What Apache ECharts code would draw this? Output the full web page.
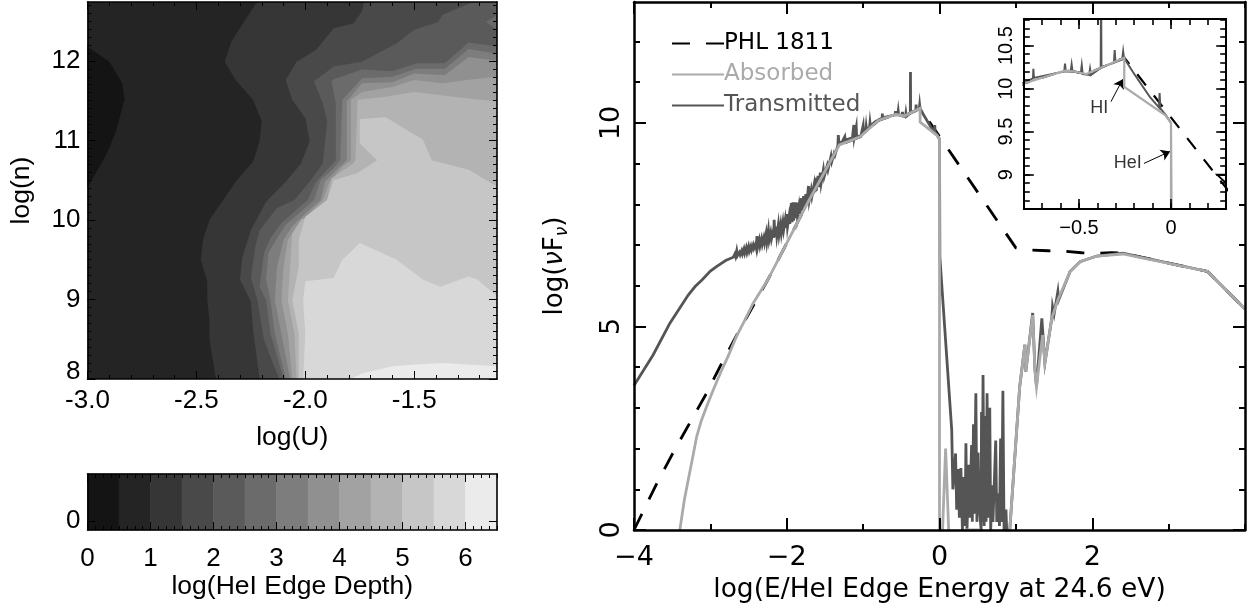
<!DOCTYPE html>
<html><head><meta charset="utf-8">
<style>html,body{margin:0;padding:0;background:#fff}#c{width:1253px;height:611px}</style>
<script src="https://cdn.jsdelivr.net/npm/echarts@6/dist/echarts.min.js"></script>
</head><body><div id="c"></div>
<script>
// ---- contour boundaries, log(U) vs log(n) ----
const contourBase=[[-3,8],[-3,12.74],[-1.12,12.74],[-1.12,8]];
const contourDarkest=[[-3,12.18],[-2.9,11.99],[-2.84,11.72],[-2.83,11.51],[-2.87,11.11],[-2.91,10.84],[-3,10.4]];
const contourA=[[-2.22,12.75],[-2.27,12.54],[-2.34,12.24],[-2.37,11.99],[-2.32,11.76],[-2.24,11.51],[-2.2,11.24],[-2.21,10.99],[-2.24,10.73],[-2.32,10.48],[-2.44,10.0],[-2.47,9.75],[-2.48,9.5],[-2.45,9.22],[-2.45,8.99],[-2.44,8.74],[-2.44,8.49],[-2.41,8]];
const contourB=[[-1.73,12.75],[-1.74,12.62],[-1.78,12.47],[-1.87,12.41],[-1.95,12.14],[-2.04,11.99],[-2.09,11.76],[-2.06,11.51],[-2.0,11.28],[-1.98,10.99],[-2.02,10.71],[-2.09,10.48],[-2.18,10.23],[-2.25,9.87],[-2.29,9.52],[-2.3,9.25],[-2.25,8.97],[-2.24,8.62],[-2.21,8]];
const contourC=[[-1.22,12.75],[-1.37,12.58],[-1.39,12.49],[-1.5,12.39],[-1.58,12.22],[-1.74,11.99],[-1.87,11.93],[-1.96,11.74],[-1.92,11.47],[-1.9,11.24],[-1.91,10.96],[-1.92,10.71],[-1.98,10.48],[-2.05,10.25],[-2.13,10.15],[-2.21,9.87],[-2.23,9.66],[-2.25,9.27],[-2.22,8.99],[-2.19,8.49],[-2.12,8]];
const contourD=[[-1.12,12.18],[-1.25,12.23],[-1.36,11.97],[-1.49,11.97],[-1.6,11.87],[-1.74,11.89],[-1.87,11.77],[-1.88,11.74],[-1.86,11.47],[-1.86,10.75],[-1.9,10.63],[-1.95,10.48],[-1.99,10.25],[-2.06,10.08],[-2.11,9.96],[-2.16,9.77],[-2.19,9.58],[-2.21,9.16],[-2.18,8.99],[-2.16,8.57],[-2.1,8]];
const contourE=[[-1.12,12.09],[-1.25,12.15],[-1.36,11.9],[-1.49,11.9],[-1.6,11.8],[-1.74,11.78],[-1.83,11.51],[-1.84,10.75],[-1.87,10.65],[-1.93,10.5],[-1.96,10.25],[-2.03,10.08],[-2.09,9.94],[-2.13,9.77],[-2.17,9.58],[-2.18,9.25],[-2.16,8.99],[-2.14,8.57],[-2.09,8]];
const contourF=[[-1.12,12.0],[-1.25,12.05],[-1.36,11.82],[-1.5,11.84],[-1.6,11.73],[-1.74,11.72],[-1.81,11.49],[-1.81,10.75],[-1.85,10.65],[-1.91,10.48],[-1.93,10.25],[-2.0,10.08],[-2.06,9.92],[-2.1,9.75],[-2.13,9.41],[-2.14,8.99],[-2.11,8.57],[-2.07,8]];
const contourG=[[-1.12,11.8],[-1.26,11.76],[-1.37,11.72],[-1.5,11.76],[-1.6,11.67],[-1.74,11.61],[-1.79,11.51],[-1.79,10.75],[-1.83,10.67],[-1.89,10.48],[-1.92,10.25],[-1.99,10.06],[-2.04,9.92],[-2.08,9.75],[-2.1,9.41],[-2.11,8.99],[-2.08,8.57],[-2.06,8]];
const contourH=[[-1.12,11.49],[-1.26,11.53],[-1.5,11.61],[-1.63,11.55],[-1.76,11.51],[-1.77,10.75],[-1.78,10.71],[-1.88,10.52],[-1.9,10.25],[-1.97,10.08],[-2.02,10.0],[-2.06,9.83],[-2.07,9.41],[-2.08,8.99],[-2.05,8.57],[-2.04,8]];
const contourI=[[-1.12,10.42],[-1.25,10.63],[-1.42,10.75],[-1.46,11.01],[-1.51,11.09],[-1.63,11.29],[-1.75,11.27],[-1.75,10.96],[-1.67,10.75],[-1.76,10.59],[-1.87,10.5],[-1.9,10.25],[-2.0,10.04],[-2.03,9.75],[-2.03,9.41],[-2.06,8.99],[-2.03,8.57],[-2.03,8]];
const contourJ=[[-1.12,9.04],[-1.21,9.25],[-1.25,9.29],[-1.29,9.25],[-1.38,9.16],[-1.46,9.25],[-1.58,9.5],[-1.75,9.71],[-1.83,9.5],[-1.87,9.27],[-2.0,9.23],[-2.01,8.99],[-2.0,8.57],[-2.01,8]];
const contourK=[[-1.12,8.16],[-1.37,8.2],[-1.51,8.18],[-1.6,8.16],[-1.74,8.07],[-1.79,8]];
const contourBlob=[[-1.12,12.58],[-1.17,12.49],[-1.12,12.39]];

// ---- colour bar ----
const depthEdges=[0,0.5,1,1.5,2,2.5,3,3.5,4,4.5,5,5.5,6,6.5];
const grays=['#141414','#242424','#363636','#494949','#5a5a5a','#6b6b6b','#7d7d7d','#909090','#a2a2a2','#b3b3b3','#c6c6c6','#d8d8d8','#ebebeb'];

// ---- spectra: log(E/edge), log(nuFnu) ----
const phl1811=[[-4,0],[-3.7,1.15],[-3.49,1.89],[-3.27,2.63],[-3.05,3.36],[-2.85,4.1],[-2.64,4.84],[-2.25,6.14],[-1.74,7.99],[-1.31,9.46],[-1.04,9.66],[-0.8,10.06],[-0.576,10.21],[-0.53,10.2],[-0.46,10.17],[-0.254,10.36],[1.0,6.93],[1.18,6.88],[1.42,6.86],[1.62,6.85],[1.86,6.81],[2.06,6.8],[2.25,6.81],[2.4,6.8],[3.51,6.35],[4,5.43]];
const absorbed=[[-3.4,0],[-3.34,0.75],[-3.29,1.23],[-3.23,1.8],[-3.18,2.29],[-3.12,2.68],[-3.05,3.03],[-2.96,3.45],[-2.87,3.85],[-2.76,4.3],[-2.66,4.75],[-2.55,5.15],[-2.44,5.57],[-2.25,6.14],[-1.74,7.99],[-1.31,9.46],[-1.04,9.66],[-0.8,10.06],[-0.576,10.21],[-0.53,10.2],[-0.46,10.17],[-0.254,10.36],[-0.254,10.02],[-0.03,9.69],[0,9.6],[0,0],[0.04,0],[0.08,2.0],[0.12,0],[0.13,null],[0.33,0],[0.53,0],[0.54,null],[0.92,0],[1.05,3.52],[1.118,4.55],[1.13,3.89],[1.22,5.28],[1.25,3.93],[1.27,3.52],[1.35,4.79],[1.38,4.1],[1.47,5.2],[1.55,5.65],[1.71,6.35],[1.84,6.59],[2.06,6.73],[2.4,6.78],[3.51,6.35],[4,5.43]];
const transmitted=[[-4,3.55],[-3.75,4.3],[-3.53,5.08],[-3.29,5.77],[-3.2,5.98],[-3.11,6.14],[-3.0,6.36],[-2.92,6.47],[-2.8,6.62],[-2.7,6.7],[-2.68,6.78],[-2.67,6.72],[-2.655,6.86],[-2.645,6.74],[-2.62,6.82],[-2.61,6.76],[-2.59,6.86],[-2.58,6.78],[-2.56,6.9],[-2.55,6.8],[-2.53,6.93],[-2.52,6.82],[-2.5,6.96],[-2.49,6.85],[-2.47,6.97],[-2.46,6.88],[-2.44,7.0],[-2.43,6.92],[-2.41,7.02],[-2.4,6.93],[-2.39,7.22],[-2.38,6.95],[-2.36,7.12],[-2.35,6.98],[-2.33,7.15],[-2.32,7.02],[-2.3,7.18],[-2.29,7.06],[-2.27,7.28],[-2.26,7.08],[-2.24,7.36],[-2.23,7.12],[-2.21,7.3],[-2.2,7.15],[-2.18,7.32],[-2.17,7.18],[-2.165,7.62],[-2.155,7.2],[-2.14,7.45],[-2.13,7.22],[-2.11,7.5],[-2.1,7.26],[-2.08,7.5],[-2.07,7.3],[-2.05,7.56],[-2.04,7.38],[-2.02,7.62],[-2.01,7.42],[-2.0,7.76],[-1.99,7.45],[-1.97,7.7],[-1.96,7.52],[-1.94,8.03],[-1.93,7.56],[-1.92,8.05],[-1.91,7.6],[-1.89,8.05],[-1.88,7.66],[-1.87,8.04],[-1.86,7.7],[-1.84,7.95],[-1.83,7.76],[-1.81,8.15],[-1.8,7.84],[-1.78,8.2],[-1.77,7.92],[-1.75,8.25],[-1.74,7.99],[-1.715,8.45],[-1.705,8.1],[-1.68,8.35],[-1.67,8.2],[-1.64,8.5],[-1.63,8.3],[-1.625,8.65],[-1.615,8.33],[-1.59,8.7],[-1.58,8.42],[-1.56,8.78],[-1.55,8.52],[-1.52,8.85],[-1.51,8.68],[-1.47,8.95],[-1.46,8.85],[-1.42,9.18],[-1.41,9.05],[-1.38,9.25],[-1.37,9.2],[-1.33,9.45],[-1.325,9.7],[-1.315,9.47],[-1.27,9.55],[-1.245,9.58],[-1.24,9.66],[-1.235,9.58],[-1.14,9.63],[-1.128,9.64],[-1.122,9.95],[-1.116,9.65],[-1.095,9.66],[-1.09,9.9],[-1.085,9.66],[-1.03,9.68],[-1.005,9.72],[-1.0,9.93],[-0.995,9.75],[-0.965,9.8],[-0.96,9.9],[-0.955,9.82],[-0.915,9.9],[-0.91,10.0],[-0.905,9.92],[-0.85,10.02],[-0.8,10.07],[-0.75,10.12],[-0.748,10.23],[-0.745,10.125],[-0.58,10.2],[-0.576,10.29],[-0.572,10.2],[-0.545,10.2],[-0.54,10.28],[-0.535,10.2],[-0.49,10.18],[-0.485,10.27],[-0.48,10.17],[-0.445,10.16],[-0.44,10.23],[-0.435,10.16],[-0.382,10.24],[-0.38,11.25],[-0.378,10.25],[-0.31,10.3],[-0.306,10.45],[-0.302,10.31],[-0.265,10.34],[-0.26,10.43],[-0.256,10.36],[-0.206,10.19],[-0.114,9.9],[-0.065,9.78],[-0.062,9.95],[-0.058,9.77],[-0.027,9.69],[0,9.6],[0.005,6.7],[0.16,2.46],[0.175,1.0],[0.21,1.88],[0.225,0.5],[0.245,1.5],[0.26,0.3],[0.28,1.52],[0.3,0],[0.32,1.3],[0.335,0.1],[0.346,2.13],[0.36,0],[0.385,1.6],[0.395,0.3],[0.42,2.09],[0.43,0.2],[0.445,2.6],[0.455,0.4],[0.476,3.36],[0.49,0.2],[0.505,1.9],[0.52,0.6],[0.545,0],[0.55,2.9],[0.56,0.2],[0.57,3.81],[0.585,0.1],[0.6,2.8],[0.61,0.2],[0.623,3.36],[0.635,0.3],[0.658,3.0],[0.67,0],[0.69,1.1],[0.7,0.2],[0.736,2.2],[0.75,0.2],[0.77,0.9],[0.785,0.1],[0.8,2.25],[0.815,0.2],[0.83,3.42],[0.845,0],[0.87,0.5],[0.88,0],[0.92,0],[1.05,3.52],[1.118,4.55],[1.13,3.89],[1.22,5.33],[1.25,3.93],[1.27,3.52],[1.34,5.2],[1.38,4.1],[1.47,5.2],[1.48,5.49],[1.5,5.3],[1.55,5.86],[1.56,5.65],[1.71,6.35],[1.84,6.59],[2.06,6.73],[2.4,6.8],[3.51,6.35],[4,5.43]];
const insetCornerMark=[[0.3,8.9],[0.25,9.0],[0.3,9.0]];
const insetNotes=[[-0.39,9.78,'HI'],[-0.235,9.13,'HeI']];
const arrowHI=[[-0.326,9.85],[-0.262,10.11]];
const arrowHeI=[[-0.147,9.13],[-0.005,9.27]];

// ---- tick labels ----
const leftXTicks=[-3,-2.5,-2,-1.5], leftYTicks=[8,9,10,11,12], barXTicks=[0,1,2,3,4,5,6], barYTicks=[0];
const mainXMajor=[-4,-2,0,2], mainYMajor=[0,5,10], insetXMajor=[-0.5,0], insetYMajor=[9,9.5,10,10.5];

const LIB='"Liberation Sans",Arial,sans-serif', DV='"DejaVu Sans",sans-serif';
function steps(a,b,s){const o=[];const n=Math.round((b-a)/s);for(let i=0;i<=n;i++)o.push(Math.round((a+i*s)*1e4)/1e4);return o;}

const grid=[],xAxis=[],yAxis=[];
function frame(g,cfg){
  const gi=grid.length;grid.push(g);
  const xi=xAxis.length,yi=yAxis.length;
  const line={show:true,onZero:false,lineStyle:{color:'#000',width:cfg.frame}};
  const mk=(isX,pos,vals,len,lab,extra)=>Object.assign({type:'value',gridIndex:gi,position:pos,z:10,
    min:isX?cfg.x[0]:cfg.y[0],max:isX?cfg.x[1]:cfg.y[1],splitLine:{show:false},
    axisLine:lab==='line'||lab===true?line:{show:false,onZero:false},
    axisTick:{show:true,inside:true,length:len,customValues:vals,lineStyle:{color:'#000',width:cfg.tick}},
    axisLabel:{show:lab===true}},extra||{});
  const xLab={axisLabel:Object.assign({show:true,customValues:cfg.xMajor,margin:cfg.xMargin,fontSize:cfg.font,fontFamily:cfg.family,color:'#000'},cfg.xFmt?{formatter:cfg.xFmt}:{}),
    name:cfg.xName,nameLocation:'middle',nameGap:cfg.xGap,nameTextStyle:{fontSize:cfg.nameFont,fontFamily:cfg.family,color:'#000'}};
  const yLab={axisLabel:Object.assign({show:true,customValues:cfg.yMajor,margin:cfg.yMargin,rotate:cfg.yRot,fontSize:cfg.font,fontFamily:cfg.family,color:'#000'},cfg.yFmt?{formatter:cfg.yFmt,rich:cfg.yRich}:{}),
    name:cfg.yName,nameLocation:'middle',nameGap:cfg.yGap,nameTextStyle:Object.assign({fontSize:cfg.nameFont,fontFamily:cfg.family,color:'#000'},cfg.yNameRich?{rich:cfg.yNameRich}:{})};
  xAxis.push(mk(true,'bottom',cfg.xMajor,cfg.maj,true,xLab),mk(true,'top',cfg.xMajor,cfg.maj,'line'),mk(true,'bottom',cfg.xMinor,cfg.min,false),mk(true,'top',cfg.xMinor,cfg.min,false));
  yAxis.push(mk(false,'left',cfg.yMajor,cfg.majY||cfg.maj,true,yLab),mk(false,'right',cfg.yMajor,cfg.majY||cfg.maj,'line'),mk(false,'left',cfg.yMinor,cfg.min,false),mk(false,'right',cfg.yMinor,cfg.min,false));
  return {xAxisIndex:xi,yAxisIndex:yi};
}
const minusFmt=v=>String(v).replace('-','\u2212');

const a0=frame({left:87.5,top:2,width:409.5,height:377},{x:[-3,-1.12],y:[8,12.74],frame:1.6,tick:1,maj:8,min:4,
  xMajor:leftXTicks,yMajor:leftYTicks,xMinor:steps(-3,-1.2,0.1),yMinor:steps(8,12.7,0.1),font:26,nameFont:26.5,family:LIB,
  xMargin:9,yMargin:7,xGap:45,yGap:52,xName:'log(U)',yName:'log(n)',xFmt:v=>Number(v).toFixed(1),
  yFmt:v=>v===8?'{low|8}':String(v),yRich:{low:{fontSize:26,fontFamily:LIB,color:'#000',padding:[0,0,14,0]}}});
const a1=frame({left:87.5,top:474,width:409.5,height:56},{x:[0,6.5],y:[-0.16,0.84],frame:1.6,tick:1,maj:8,min:4,
  xMajor:barXTicks,yMajor:barYTicks,xMinor:steps(0,6.5,0.125),yMinor:[],font:26,nameFont:26.5,family:LIB,
  xMargin:16,yMargin:7,xGap:43,yGap:40,xName:'log(HeI Edge Depth)',yName:''});
const a2=frame({left:634,top:2,width:611,height:528},{x:[-4,4],y:[0,12.97],frame:2.5,tick:2,maj:12,min:6,
  xMajor:mainXMajor,yMajor:mainYMajor,xMinor:steps(-4,4,1),yMinor:steps(0,12,1),font:27,nameFont:26.5,family:DV,
  xMargin:14,yMargin:8.5,xGap:47,yGap:63,yRot:90,xName:'log(E/HeI Edge Energy at 24.6 eV)',
  yName:'{a|log(}{i|\u03bd}{a|F}{s|\u03bd}{a|)}',xFmt:minusFmt,
  yNameRich:{a:{fontSize:26,fontFamily:DV,color:'#000'},i:{fontSize:26,fontFamily:DV,fontStyle:'italic',color:'#000'},s:{fontSize:17,fontFamily:DV,fontStyle:'italic',color:'#000',padding:[14,0,0,0]}}});
const a3=frame({left:1023.8,top:19,width:202.4,height:190},{x:[-0.8,0.3],y:[8.6,10.81],frame:2,tick:1.6,maj:10,min:6,
  xMajor:insetXMajor,yMajor:insetYMajor,xMinor:steps(-0.8,0.3,0.1),yMinor:steps(8.6,10.8,0.1),font:20,nameFont:20,family:LIB,
  xMargin:9,yMargin:7,xGap:30,yGap:30,yRot:90,xName:'',yName:'',xFmt:minusFmt});

// painter's order, each region lies to the right of its boundary
const bands=[[contourBase,grays[1],false],[contourDarkest,grays[0],false],[contourA,grays[2],true],[contourB,grays[3],true],[contourC,grays[4],true],[contourBlob,grays[5],false],
 [contourD,grays[5],true],[contourE,grays[6],true],[contourF,grays[7],true],[contourG,grays[8],true],[contourH,grays[9],true],[contourI,grays[10],true],[contourJ,grays[11],true],[contourK,grays[12],true]];
const XR=-1.12,YB=8,YT=12.74;
const contourSeries=Object.assign({type:'custom',silent:true,clip:true,z:2,data:bands.map((b,i)=>[i]),encode:{x:-1,y:-1},
  renderItem(p,api){
    const b=bands[p.dataIndex];let pts=b[0].slice();
    if(b[2]){pts.push([XR,YB]);if(pts[0][1]>=YT)pts.push([XR,YT]);}
    return {type:'polygon',shape:{points:pts.map(q=>api.coord(q))},style:{fill:b[1]}};
  }},a0);
const barSeries=Object.assign({type:'custom',silent:true,z:2,data:grays.map((c,i)=>[depthEdges[i],depthEdges[i+1]]),encode:{x:[0,1],y:-1},
  renderItem(p,api){
    const a=api.coord([api.value(0),0.84]),b=api.coord([api.value(1),-0.16]);
    return {type:'rect',shape:{x:a[0],y:a[1],width:b[0]-a[0],height:b[1]-a[1]},style:{fill:grays[p.dataIndex],stroke:grays[p.dataIndex],lineWidth:0.6}};
  }},a1);
const ln=(name,data,color,width,axes,z,dash)=>Object.assign({name,type:'line',data,showSymbol:false,symbol:'none',clip:true,connectNulls:false,z,
  lineStyle:{color,width,type:dash||'solid',join:'miter',cap:'butt'},itemStyle:{color},emphasis:{disabled:true},animation:false},axes);

const option={animation:false,backgroundColor:'#fff',grid,xAxis,yAxis,
 legend:{left:666,top:27,orient:'vertical',itemWidth:52,itemHeight:14,itemGap:8,selectedMode:false,
  itemStyle:{opacity:0},
  textStyle:{fontFamily:DV,fontSize:23,padding:[0,0,0,-5]},
  data:[{name:'PHL 1811',textStyle:{color:'#000'}},{name:'Absorbed',textStyle:{color:'#aaaaaa'}},{name:'Transmitted',textStyle:{color:'#555555'}}]},
 series:[contourSeries,barSeries,
  ln('PHL 1811',phl1811,'#000',2.8,a2,3,[18,16]),
  ln('Transmitted',transmitted,'#555555',2.8,a2,4),
  ln('Absorbed',absorbed,'#aaaaaa',2.8,a2,5),
  ln('phlInset',phl1811,'#000',2.2,a3,3,[14,13]),
  ln('transmittedInset',transmitted,'#555555',2,a3,4),
  ln('absorbedInset',absorbed,'#aaaaaa',2.2,a3,5),
  ln('corner',insetCornerMark,'#000',1.8,a3,3),
  Object.assign({type:'scatter',name:'notes',data:insetNotes,symbolSize:0,silent:true,z:6,
    label:{show:true,position:'inside',formatter:p=>p.value[2],fontFamily:LIB,fontSize:18,color:'#000'},
    markLine:{silent:true,animation:false,symbol:['none','arrow'],symbolSize:9,label:{show:false},lineStyle:{type:'solid',color:'#000',width:1},
      data:[[{coord:arrowHI[0]},{coord:arrowHI[1]}],[{coord:arrowHeI[0]},{coord:arrowHeI[1]}]]}},a3)
 ]};
const chart=echarts.init(document.getElementById('c'),null,{renderer:'canvas'});
chart.setOption(option);
</script></body></html>
